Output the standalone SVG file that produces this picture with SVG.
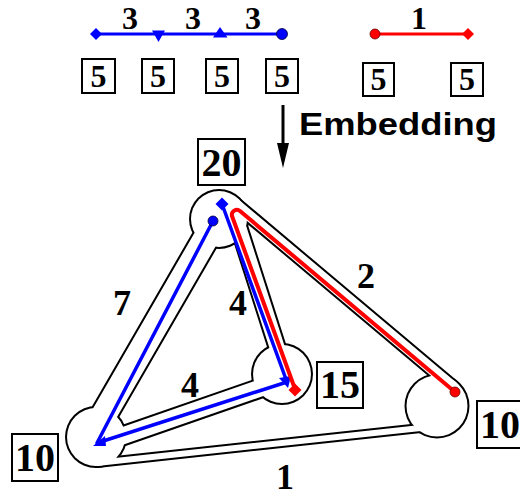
<svg xmlns="http://www.w3.org/2000/svg" width="520" height="497" viewBox="0 0 520 497">
<style>
.num{font-family:"Liberation Serif","Times New Roman",serif;font-weight:bold;text-anchor:middle;fill:#000}
.s{font-size:32px}
.n{font-size:40px}
.e{font-size:36px}
.box{fill:#fff;stroke:#000;stroke-width:2}
.bl{stroke:#00f;stroke-width:3.5;fill:none;stroke-linejoin:round}
.rd{stroke:#f00;stroke-width:4;fill:none;stroke-linejoin:round}
.bf{fill:#00f}
.rf{fill:#f00}
.dotb{fill:#00f;stroke:#003;stroke-width:0.8}
.dotr{fill:#f00;stroke:#600;stroke-width:0.8}
.tube{stroke-linecap:round}
</style>

<g id="top-blue-path">
  <line x1="96" y1="34" x2="282" y2="34" stroke="#00f" stroke-width="3"/>
  <polygon class="bf" points="96,28 102,34 96,40 90,34"/>
  <polygon class="bf" points="152,30.5 165,30.5 158.5,42"/>
  <polygon class="bf" points="213,37.5 227.5,37.5 220,27"/>
  <circle class="dotb" cx="282" cy="34" r="5.5"/>
  <text class="num s" x="130" y="29">3</text>
  <text class="num s" x="193" y="29">3</text>
  <text class="num s" x="253" y="29">3</text>
</g>

<g id="top-red-path">
  <line x1="375" y1="34" x2="468" y2="34" stroke="#f00" stroke-width="3"/>
  <circle class="dotr" cx="375" cy="34" r="5"/>
  <polygon class="rf" points="468,28 474,34 468,40 462,34"/>
  <text class="num s" x="419" y="29">1</text>
</g>

<g id="top-weights">
  <rect class="box" x="82" y="59" width="33" height="34"/><text class="num s" x="98.5" y="87">5</text>
  <rect class="box" x="142" y="59" width="32" height="34"/><text class="num s" x="158" y="87">5</text>
  <rect class="box" x="206" y="59" width="32" height="34"/><text class="num s" x="222" y="87">5</text>
  <rect class="box" x="266" y="59" width="32" height="34"/><text class="num s" x="282" y="87">5</text>
  <rect class="box" x="363" y="63" width="31" height="33"/><text class="num s" x="378.5" y="90">5</text>
  <rect class="box" x="451" y="63" width="32" height="33"/><text class="num s" x="467" y="90">5</text>
</g>

<g id="embedding-arrow">
  <line x1="283" y1="105" x2="283" y2="146" stroke="#000" stroke-width="3"/>
  <polygon points="277,143 289,143 283,168" fill="#000"/>
  <text x="299" y="135" font-family="'Liberation Sans',Arial,sans-serif" font-weight="bold" font-size="32" textLength="198" lengthAdjust="spacingAndGlyphs">Embedding</text>
</g>

<g id="region-outline">
  <g fill="#000">
    <circle cx="219" cy="219" r="30"/>
    <circle cx="282" cy="374" r="31"/>
    <circle cx="96" cy="437" r="31"/>
    <circle cx="437" cy="406" r="32.5"/>
  </g>
  <g class="tube" stroke="#000">
    <line x1="217" y1="219" x2="91" y2="437" stroke-width="29"/>
    <line x1="238" y1="225" x2="285" y2="372" stroke-width="19"/>
    <line x1="105" y1="442" x2="275" y2="383" stroke-width="21"/>
    <line x1="233" y1="202" x2="453" y2="387" stroke-width="15"/>
    <line x1="97" y1="463" x2="430" y2="427" stroke-width="10"/>
  </g>
  <g fill="#fff">
    <circle cx="219" cy="219" r="28"/>
    <circle cx="282" cy="374" r="29"/>
    <circle cx="96" cy="437" r="29"/>
    <circle cx="437" cy="406" r="30.5"/>
  </g>
  <g class="tube" stroke="#fff">
    <line x1="217" y1="219" x2="91" y2="437" stroke-width="25"/>
    <line x1="238" y1="225" x2="285" y2="372" stroke-width="15"/>
    <line x1="105" y1="442" x2="275" y2="383" stroke-width="17"/>
    <line x1="233" y1="202" x2="453" y2="387" stroke-width="11"/>
    <line x1="97" y1="463" x2="430" y2="427" stroke-width="6"/>
  </g>
</g>

<g id="connectors">
  <g id="blue-embedded">
    <polyline class="bl" points="222,204 287,382 97,443 213,221"/>
    <polygon class="bf" points="222,197.5 228.5,204 222,210.5 215.5,204"/>
    <polygon class="bf" points="279,378 291,376 288,388"/>
    <polygon class="bf" points="93,446 105,436 106,446"/>
    <circle class="dotb" cx="213" cy="221" r="5"/>
  </g>
  <g id="red-embedded">
    <path class="rd" d="M455,392 L240,211 A5 5 0 0 0 232,216 L295,389"/>
    <circle class="dotr" cx="455" cy="392" r="5"/>
    <polygon class="rf" points="295,383.5 301.5,390 295,396.5 288.5,390"/>
  </g>
  <g id="edge-labels">
    <text class="num e" x="122" y="315">7</text>
    <text class="num e" x="238" y="315">4</text>
    <text class="num e" x="190" y="397">4</text>
    <text class="num e" x="366" y="288">2</text>
    <text class="num e" x="285" y="489">1</text>
  </g>
</g>

<g id="node-20">
  <rect class="box" x="198" y="139" width="47" height="46"/>
  <text class="num n" x="221.5" y="176">20</text>
</g>
<g id="node-15">
  <rect class="box" x="317" y="362" width="46" height="46"/>
  <text class="num n" x="340" y="398">15</text>
</g>
<g id="node-10-left">
  <rect class="box" x="12" y="434" width="46" height="47"/>
  <text class="num n" x="35" y="471">10</text>
</g>
<g id="node-10-right">
  <rect class="box" x="477" y="401" width="46" height="47"/>
  <text class="num n" x="500" y="438">10</text>
</g>
</svg>
